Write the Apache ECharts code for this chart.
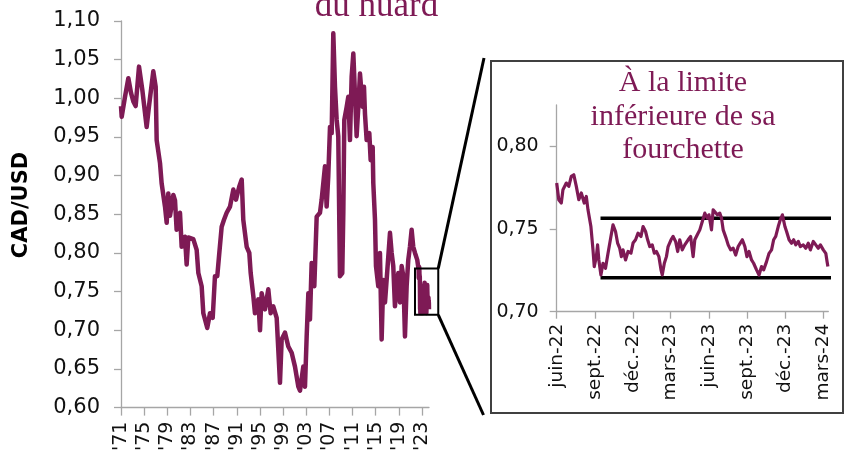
<!DOCTYPE html>
<html>
<head>
<meta charset="utf-8">
<script src="https://cdn.jsdelivr.net/npm/echarts@6/dist/echarts.min.js"></script>
<style>
  html, body { margin: 0; padding: 0; background: #fff; }
  #chart { width: 850px; height: 454px; }
</style>
</head>
<body>
<div id="chart"></div>
<script>
// CAD/USD exchange rate, long history (fractional years) and recent zoom (daily dates)
const mainYears = [1971.00,1971.12,1971.69,1972.27,1972.73,1973.13,1973.53,1974.11,1974.68,1975.43,1975.84,1976.58,1976.99,1977.16,1977.74,1978.02,1978.60,1978.89,1979.17,1979.46,1980.04,1980.33,1980.61,1981.19,1981.48,1982.05,1982.34,1982.63,1983.49,1984.07,1984.36,1984.93,1985.22,1985.90,1986.37,1986.84,1987.23,1987.63,1987.98,1988.39,1988.79,1989.25,1989.83,1990.40,1990.86,1991.43,1991.85,1992.12,1992.71,1993.16,1993.40,1993.86,1994.14,1994.71,1995.01,1995.30,1995.87,1996.44,1996.85,1997.30,1997.89,1998.46,1998.75,1999.32,1999.90,2000.48,2001.05,2001.63,2001.92,2002.49,2002.78,2003.07,2003.36,2003.64,2003.93,2004.39,2004.80,2005.37,2005.66,2006.23,2006.52,2006.80,2007.10,2007.39,2007.67,2007.96,2008.25,2008.53,2008.82,2009.22,2009.40,2009.57,2009.98,2010.26,2010.55,2010.84,2011.13,2011.41,2011.70,2011.99,2012.28,2012.74,2012.97,2013.14,2013.43,2013.89,2014.12,2014.47,2014.58,2014.87,2015.04,2015.44,2015.73,2016.02,2016.30,2016.60,2016.88,2017.46,2017.75,2018.03,2018.32,2018.61,2018.90,2019.19,2019.48,2019.76,2020.05,2020.34,2020.62,2020.91,2021.20,2021.48,2021.78,2022.17];
const mainValues = [0.990,0.976,1.002,1.026,1.007,0.996,0.990,1.041,1.011,0.963,0.990,1.035,1.015,0.946,0.916,0.890,0.860,0.839,0.877,0.848,0.875,0.868,0.830,0.852,0.808,0.821,0.785,0.820,0.818,0.804,0.774,0.757,0.722,0.703,0.722,0.716,0.770,0.770,0.800,0.834,0.843,0.852,0.860,0.882,0.869,0.886,0.895,0.843,0.808,0.800,0.774,0.744,0.722,0.740,0.700,0.748,0.727,0.753,0.722,0.731,0.716,0.632,0.688,0.697,0.679,0.671,0.653,0.627,0.622,0.653,0.627,0.692,0.748,0.714,0.787,0.757,0.847,0.852,0.869,0.912,0.860,0.899,0.963,0.955,1.084,1.015,0.972,0.951,0.770,0.774,0.852,0.972,0.989,1.002,0.946,1.028,1.058,1.058,0.951,0.989,1.032,0.989,1.015,0.980,0.946,0.955,0.920,0.937,0.890,0.843,0.783,0.757,0.800,0.688,0.765,0.736,0.765,0.826,0.800,0.783,0.731,0.757,0.774,0.736,0.783,0.770,0.692,0.757,0.791,0.808,0.830,0.808,0.800,0.791];

const insetDates = ['2022-06-01','2022-06-06','2022-06-12','2022-06-16','2022-06-24','2022-06-30','2022-07-06','2022-07-12','2022-07-18','2022-07-24','2022-07-30','2022-08-06','2022-08-11','2022-08-15','2022-08-22','2022-08-27','2022-08-30','2022-09-04','2022-09-07','2022-09-10','2022-09-15','2022-09-20','2022-09-26','2022-10-02','2022-10-09','2022-10-14','2022-10-20','2022-10-25','2022-10-30','2022-11-03','2022-11-07','2022-11-13','2022-11-19','2022-11-26','2022-12-01','2022-12-07','2022-12-13','2022-12-20','2022-12-25','2022-12-31','2023-01-05','2023-01-10','2023-01-16','2023-01-21','2023-01-26','2023-02-01','2023-02-06','2023-02-09','2023-02-14','2023-02-19','2023-02-23','2023-03-02','2023-03-07','2023-03-13','2023-03-18','2023-03-23','2023-03-29','2023-04-04','2023-04-12','2023-04-18','2023-04-24','2023-04-28','2023-05-04','2023-05-10','2023-05-16','2023-05-22','2023-05-28','2023-06-01','2023-06-07','2023-06-11','2023-06-15','2023-06-21','2023-06-27','2023-07-01','2023-07-05','2023-07-12','2023-07-17','2023-07-23','2023-07-29','2023-08-04','2023-08-10','2023-08-15','2023-08-20','2023-08-26','2023-08-31','2023-09-05','2023-09-11','2023-09-16','2023-09-23','2023-09-29','2023-10-05','2023-10-10','2023-10-17','2023-10-23','2023-10-29','2023-11-03','2023-11-08','2023-11-14','2023-11-19','2023-11-24','2023-11-30','2023-12-04','2023-12-10','2023-12-16','2023-12-21','2023-12-26','2024-01-01','2024-01-06','2024-01-13','2024-01-19','2024-01-25','2024-01-30','2024-02-06','2024-02-12','2024-02-18','2024-02-23','2024-03-01','2024-03-07','2024-03-10','2024-03-12'];
const insetValues = [0.7778,0.7677,0.7657,0.7738,0.7778,0.7758,0.7818,0.7828,0.7758,0.7677,0.7718,0.7657,0.7697,0.7616,0.7515,0.7374,0.7273,0.7333,0.7404,0.7313,0.7222,0.7293,0.7263,0.7354,0.7455,0.7525,0.7485,0.7415,0.7384,0.7333,0.7374,0.7313,0.7364,0.7354,0.7415,0.7435,0.7475,0.7455,0.7515,0.7485,0.7435,0.7394,0.7404,0.7354,0.7364,0.7333,0.7253,0.7222,0.7293,0.7333,0.7394,0.7435,0.7455,0.7425,0.7364,0.7435,0.7374,0.7404,0.7435,0.7455,0.7333,0.7435,0.7465,0.7495,0.7545,0.7596,0.7566,0.7586,0.7495,0.7616,0.7626,0.7586,0.7596,0.7566,0.7495,0.7445,0.7404,0.7374,0.7384,0.7343,0.7394,0.7415,0.7435,0.7394,0.7333,0.7364,0.7313,0.7293,0.7253,0.7222,0.7273,0.7253,0.7303,0.7353,0.7374,0.7435,0.7455,0.7515,0.7556,0.7586,0.7515,0.7485,0.7435,0.7414,0.7435,0.7404,0.7425,0.7394,0.7404,0.7384,0.7414,0.7374,0.7425,0.7404,0.7384,0.7404,0.7374,0.7353,0.7303,0.7273];

// Trading range drawn on the zoom panel
const rangeDates = ['2022-09-14', '2024-04-17'];
const rangeTop = 0.7565;
const rangeBottom = 0.7206;

// Highlighted window on the long-run panel
const zoomYears = [2021.78, 2025.8];
const zoomValues = [0.72, 0.78];

// Tick positions and labels
const mainYTicks = [0.60, 0.65, 0.70, 0.75, 0.80, 0.85, 0.90, 0.95, 1.00, 1.05, 1.10];
const mainXTicks = [1971, 1975, 1979, 1983, 1987, 1991, 1995, 1999, 2003, 2007, 2011, 2015, 2019, 2023];
const insetYTicks = [0.70, 0.75, 0.80];
const insetTickDates = ['2022-06-01','2022-09-01','2022-12-01','2023-03-01','2023-06-01','2023-09-01','2023-12-01','2024-03-01'];
const insetTickLabels = ['juin-22','sept.-22','déc.-22','mars-23','juin-23','sept.-23','déc.-23','mars-24'];

const LINE = '#7E1A55';
const AXIS_GRAY = '#a6a6a6';
const SANS = 'DejaVu Sans';
const LABEL = '#111';

function dayTime(s) {
  const [y, m, d] = s.split('-').map(Number);
  return new Date(y, m - 1, d).getTime();
}
function fracYear(s) {
  const y = Number(s.slice(0, 4));
  const start = new Date(y, 0, 1).getTime();
  const end = new Date(y + 1, 0, 1).getTime();
  return y + (dayTime(s) - start) / (end - start);
}

const insetData = insetDates.map((d, i) => [dayTime(d), insetValues[i]]);
const mainData = mainYears.map((y, i) => [y, mainValues[i]])
  .concat(insetDates.map((d, i) => [fracYear(d), insetValues[i]]));
const insetTickTimes = insetTickDates.map(dayTime);

const chart = echarts.init(document.getElementById('chart'), null, { renderer: 'canvas' });

const axisLineStyle = { show: true, lineStyle: { color: AXIS_GRAY, width: 1.3 } };

chart.setOption({
  animation: false,
  backgroundColor: '#fff',
  grid: [
    { left: 121, top: 21, width: 308, height: 386.7 },
    { left: 556.7, top: 105, width: 271.6, height: 206.7 }
  ],
  xAxis: [
    {
      type: 'value', gridIndex: 0, min: 1971, max: 2024.2,
      axisLine: axisLineStyle,
      axisTick: { show: true, length: 8, customValues: mainXTicks, lineStyle: { color: AXIS_GRAY, width: 1.3 } },
      axisLabel: {
        customValues: mainXTicks, rotate: 90, margin: 14,
        formatter: v => "'" + String(Math.round(v)).slice(2),
        fontFamily: SANS, fontSize: 19, color: LABEL
      },
      splitLine: { show: false }
    },
    {
      // day timestamps on a linear scale
      type: 'value', gridIndex: 1, min: dayTime('2022-06-01'), max: dayTime('2024-03-13'),
      axisLine: axisLineStyle,
      axisTick: { show: true, length: 7, customValues: insetTickTimes, lineStyle: { color: AXIS_GRAY, width: 1.3 } },
      axisLabel: {
        customValues: insetTickTimes, rotate: 90, margin: 12,
        formatter: v => {
          let best = 0;
          insetTickTimes.forEach((t, i) => { if (Math.abs(t - v) < Math.abs(insetTickTimes[best] - v)) best = i; });
          return insetTickLabels[best];
        },
        fontFamily: SANS, fontSize: 18.5, color: LABEL
      },
      splitLine: { show: false }
    }
  ],
  yAxis: [
    {
      type: 'value', gridIndex: 0, min: 0.6, max: 1.1,
      axisLine: axisLineStyle,
      axisTick: { show: true, length: 7, customValues: mainYTicks, lineStyle: { color: AXIS_GRAY, width: 1.3 } },
      axisLabel: {
        customValues: mainYTicks, margin: 21,
        formatter: v => v.toFixed(2).replace('.', ','),
        fontFamily: SANS, fontSize: 21, color: LABEL
      },
      splitLine: { show: false }
    },
    {
      type: 'value', gridIndex: 1, min: 0.70, max: 0.825,
      axisLine: axisLineStyle,
      axisTick: { show: true, length: 7, customValues: insetYTicks, lineStyle: { color: AXIS_GRAY, width: 1.3 } },
      axisLabel: {
        customValues: insetYTicks, margin: 18,
        formatter: v => v.toFixed(2).replace('.', ','),
        fontFamily: SANS, fontSize: 19, color: LABEL
      },
      splitLine: { show: false }
    }
  ],
  series: [
    {
      type: 'line', xAxisIndex: 0, yAxisIndex: 0, data: mainData,
      symbol: 'none', lineStyle: { color: LINE, width: 4.5, join: 'round' }, z: 3
    },
    {
      type: 'line', xAxisIndex: 1, yAxisIndex: 1, clip: false,
      data: rangeDates.map(d => [dayTime(d), rangeTop]),
      symbol: 'none', lineStyle: { color: '#000', width: 3.5 }, z: 2
    },
    {
      type: 'line', xAxisIndex: 1, yAxisIndex: 1, clip: false,
      data: rangeDates.map(d => [dayTime(d), rangeBottom]),
      symbol: 'none', lineStyle: { color: '#000', width: 3.5 }, z: 2
    },
    {
      type: 'line', xAxisIndex: 1, yAxisIndex: 1, data: insetData,
      symbol: 'none', lineStyle: { color: LINE, width: 3.2, join: 'round' }, z: 3
    }
  ]
});

// Highlight box on the long-run panel and its connectors to the zoom panel
const p1 = chart.convertToPixel({ gridIndex: 0 }, [zoomYears[0], zoomValues[1]]);
const p2 = chart.convertToPixel({ gridIndex: 0 }, [zoomYears[1], zoomValues[0]]);
const frame = { x: 491, y: 61, w: 352, h: 352 };

chart.setOption({
  graphic: [
    {
      type: 'rect', z: 10,
      shape: { x: p1[0], y: p1[1], width: p2[0] - p1[0], height: p2[1] - p1[1] },
      style: { fill: 'none', stroke: '#000', lineWidth: 2 }
    },
    {
      type: 'line', z: 10,
      shape: { x1: p2[0], y1: p1[1], x2: 484, y2: 58 },
      style: { stroke: '#000', lineWidth: 3 }
    },
    {
      type: 'line', z: 10,
      shape: { x1: p2[0], y1: p2[1], x2: 483.5, y2: 415 },
      style: { stroke: '#000', lineWidth: 3 }
    },
    {
      type: 'rect', z: 10,
      shape: { x: frame.x, y: frame.y, width: frame.w, height: frame.h },
      style: { fill: 'none', stroke: '#404040', lineWidth: 2 }
    },
    {
      type: 'text', z: 10, x: 22, y: 205, rotation: Math.PI / 2,
      style: { text: 'CAD/USD', font: 'bold 21px "DejaVu Sans"', fill: '#000', textAlign: 'center', textVerticalAlign: 'middle' }
    },
    {
      type: 'text', z: 10, x: 376.5, y: 6.5,
      style: { text: 'du huard', font: '35px "Liberation Serif"', fill: LINE, textAlign: 'center', textVerticalAlign: 'middle' }
    },
    {
      type: 'text', z: 10, x: 683, y: 83,
      style: { text: 'À la limite', font: '30px "Liberation Serif"', fill: LINE, textAlign: 'center', textVerticalAlign: 'middle' }
    },
    {
      type: 'text', z: 10, x: 683, y: 117,
      style: { text: 'inférieure de sa', font: '30px "Liberation Serif"', fill: LINE, textAlign: 'center', textVerticalAlign: 'middle' }
    },
    {
      type: 'text', z: 10, x: 683, y: 150,
      style: { text: 'fourchette', font: '30px "Liberation Serif"', fill: LINE, textAlign: 'center', textVerticalAlign: 'middle' }
    }
  ]
});
</script>
</body>
</html>
